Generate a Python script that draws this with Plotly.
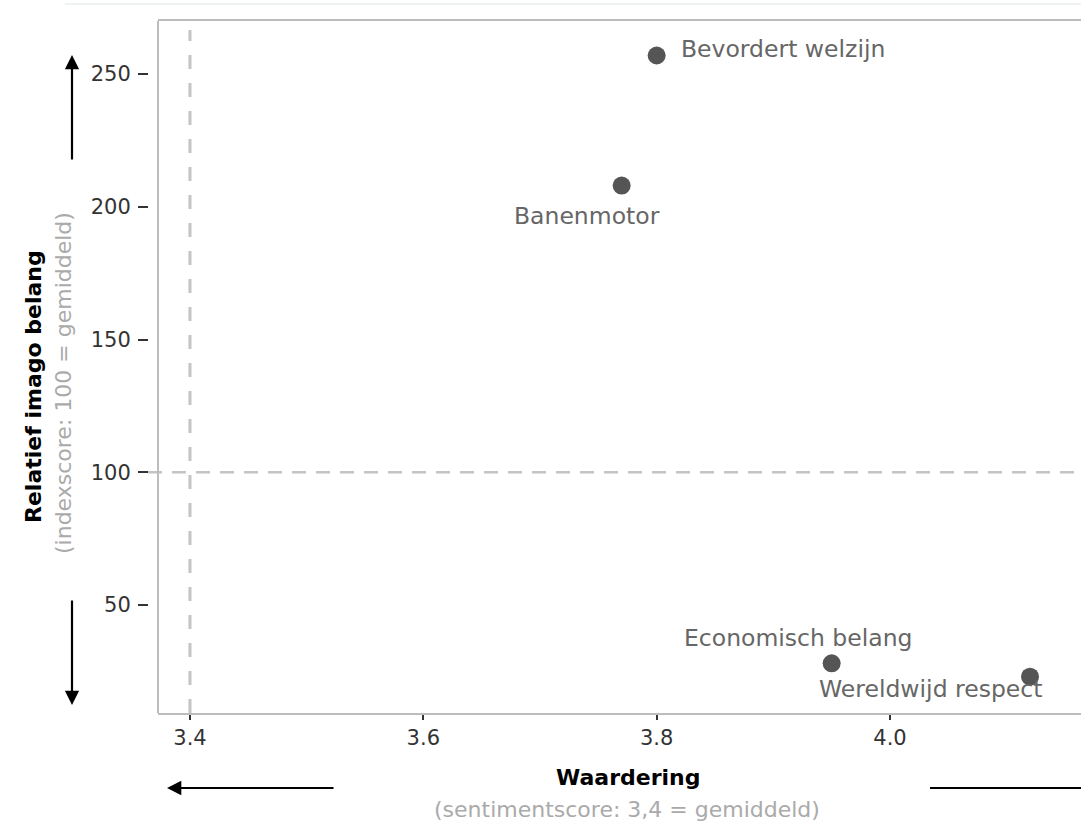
import plotly.graph_objects as go

# Data
labels = ["Bevordert welzijn", "Banenmotor", "Economisch belang", "Wereldwijd respect"]
waardering = [3.80, 3.77, 3.95, 4.12]
imago = [257, 208, 28, 23]
# label placement: (xanchor, dx, dy) in px relative to each point
label_place = [("left", 22, 7), ("center", -35, -30), ("center", -34, 25), ("center", -100, -12)]

x_ticks = [3.4, 3.6, 3.8, 4.0]
y_ticks = [50, 100, 150, 200, 250]
x_mean = 3.4
y_mean = 100

W, H = 1081, 829
L, R, T, B = 140, 0, 21, 116
PW, PH = W - L - R, H - T - B

def px(x):
    return (x - L) / PW

def py(y):
    return (T + PH - y) / PH

FONT = "DejaVu Sans"
fig = go.Figure()

fig.add_trace(go.Scatter(
    x=waardering, y=imago, mode="markers",
    marker=dict(size=18, color="#555555", symbol="circle"),
    hoverinfo="text", text=labels, showlegend=False,
))

for lab, xv, yv, (anc, dx, dy) in zip(labels, waardering, imago, label_place):
    fig.add_annotation(x=xv, y=yv, xref="x", yref="y", text=lab, showarrow=False,
                       xanchor=anc, yanchor="middle", xshift=dx, yshift=dy,
                       font=dict(family=FONT, size=23.5, color="#666666"))

# reference lines at the averages
fig.add_shape(type="line", xref="x", yref="paper", x0=x_mean, x1=x_mean, y0=0, y1=py(30),
              line=dict(color="#c4c4c4", width=3, dash="14px,14px"), layer="below")
fig.add_shape(type="line", xref="paper", yref="y", x0=px(148), x1=1, y0=y_mean, y1=y_mean,
              line=dict(color="#c4c4c4", width=2.5, dash="14px,10px"), layer="below")

# left frame line
fig.add_shape(type="line", xref="paper", yref="paper", x0=px(158), x1=px(158), y0=0, y1=1,
              line=dict(color="#bdbdbd", width=2))

# faint separator at the top
fig.add_shape(type="line", xref="paper", yref="paper", x0=px(65), x1=1, y0=py(4), y1=py(4),
              line=dict(color="#eef2f2", width=2))

# direction arrows
arrow = dict(showarrow=True, arrowhead=2, arrowsize=1.3, arrowwidth=2.2, arrowcolor="#000000",
             xref="paper", yref="paper", axref="pixel", ayref="pixel", text="")
fig.add_annotation(x=px(72), y=py(55), ax=0, ay=106, **arrow)
fig.add_annotation(x=px(72), y=py(705), ax=0, ay=-106, **arrow)
fig.add_annotation(x=px(167), y=py(788), ax=168, ay=0, **arrow)
fig.add_shape(type="line", xref="paper", yref="paper", x0=px(930), x1=1, y0=py(788), y1=py(788),
              line=dict(color="#000000", width=2.2))

# axis titles
title = dict(xref="paper", yref="paper", showarrow=False, xanchor="center", yanchor="middle")
fig.add_annotation(x=px(628), y=py(778), text="<b>Waardering</b>",
                   font=dict(family=FONT, size=22, color="#000000"), **title)
fig.add_annotation(x=px(627), y=py(809), text="(sentimentscore: 3,4 = gemiddeld)",
                   font=dict(family=FONT, size=22, color="#aaaaaa"), **title)
fig.add_annotation(x=px(33), y=py(387), textangle=-90, text="<b>Relatief imago belang</b>",
                   font=dict(family=FONT, size=22, color="#000000"), **title)
fig.add_annotation(x=px(63), y=py(383), textangle=-90, text="(indexscore: 100 = gemiddeld)",
                   font=dict(family=FONT, size=22, color="#aaaaaa"), **title)

fig.update_layout(
    width=W, height=H,
    margin=dict(l=L, r=R, t=T, b=B, pad=0),
    paper_bgcolor="white", plot_bgcolor="white",
    font=dict(family=FONT),
    xaxis=dict(
        domain=[px(158), 1], range=[3.3726, 4.1637],
        tickvals=x_ticks, ticktext=[f"{v:.1f}" for v in x_ticks],
        showgrid=False, zeroline=False,
        showline=True, mirror=True, linecolor="#bdbdbd", linewidth=2,
        ticks="outside", ticklen=5, tickwidth=2, tickcolor="#333333",
        tickfont=dict(family=FONT, size=21, color="#333333"),
    ),
    yaxis=dict(
        anchor="free", position=px(148), range=[9.3, 270],
        tickvals=y_ticks, showgrid=False, zeroline=False, showline=False,
        ticks="outside", ticklen=10, tickwidth=2, tickcolor="#333333",
        ticklabelstandoff=3,
        tickfont=dict(family=FONT, size=21, color="#333333"),
    ),
)

fig.write_html("out.html")
